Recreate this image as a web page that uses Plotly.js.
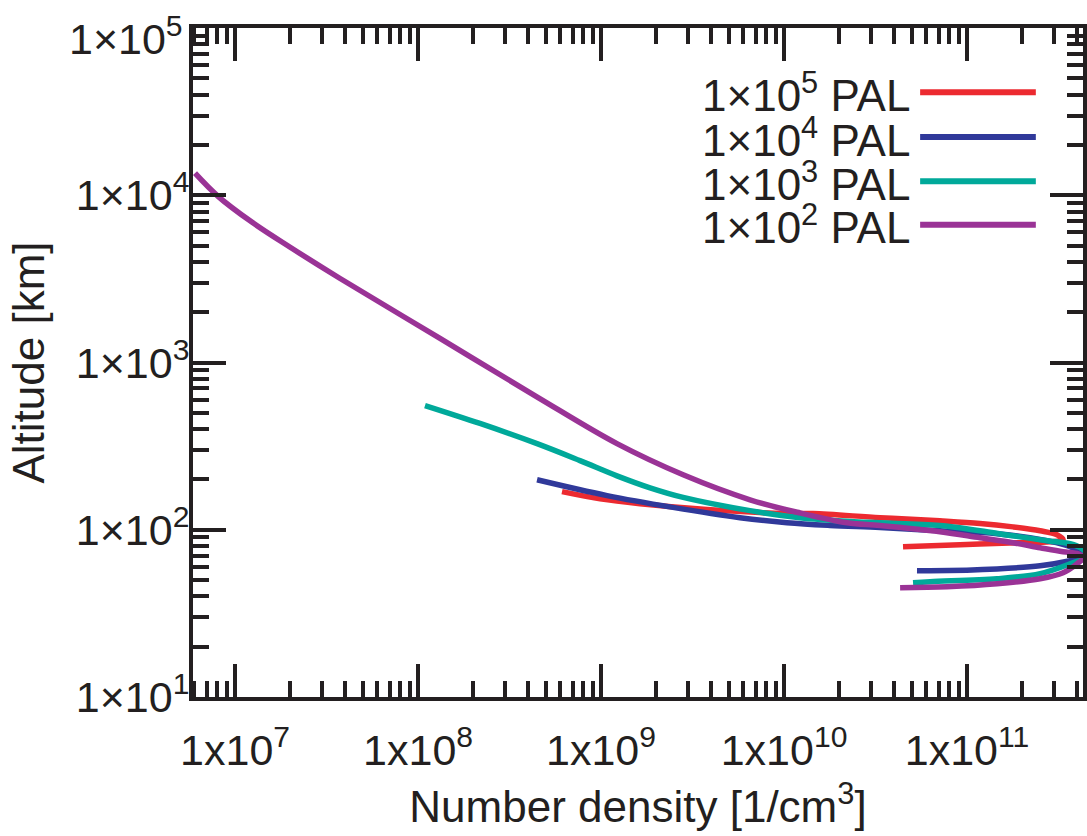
<!DOCTYPE html>
<html>
<head>
<meta charset="utf-8">
<script src="https://cdn.plot.ly/plotly-3.0.1.min.js"></script>
<style>html,body{margin:0;padding:0;background:#fff;}#chart{width:1087px;height:836px;}</style>
</head>
<body>
<div id="chart"></div>
<script>
// Series: number density [1/cm^3] vs altitude [km]
const seriesNames = ["1×10<sup>5</sup> PAL", "1×10<sup>4</sup> PAL", "1×10<sup>3</sup> PAL", "1×10<sup>2</sup> PAL"];
const seriesColors = ["#EC2A30", "#30399A", "#00A99A", "#9A3396"];

const dens_1e5 = [6.12e8, 9.89e8, 1.633e9, 3.79e9, 1.038e10, 1.439e10, 3.35e10, 7.11e10, 1.178e11, 1.782e11, 2.51e11, 3.10e11, 3.35e11, 2.84e11, 1.875e11, 9.16e10, 4.47e10];
const alt_1e5  = [169, 153, 143, 132, 125, 125, 118, 113, 109, 104, 98.6, 93.3, 87.1, 84.7, 83.6, 81.3, 79.1];

const dens_1e4 = [4.47e8, 1.079e9, 2.47e9, 5.75e9, 1.038e10, 1.782e10, 3.35e10, 7.11e10, 1.459e11, 2.74e11, 3.66e11, 4.47e11, 3.66e11, 2.51e11, 1.459e11, 6.28e10, 5.33e10];
const alt_1e4  = [199, 160, 136, 118, 110, 106, 103, 98.6, 94.6, 85.9, 79.1, 68.9, 65.2, 60.8, 58.3, 56.8, 56.8];

const dens_1e3 = [1.091e8, 2.18e8, 4.47e8, 7.67e8, 1.222e9, 1.853e9, 2.81e9, 6.52e9, 1.222e10, 2.30e10, 3.35e10, 7.11e10, 1.178e11, 1.782e11, 2.74e11, 3.66e11, 4.25e11, 4.58e11, 3.66e11, 2.51e11, 1.459e11, 6.28e10, 5.07e10];
const alt_1e3  = [553, 432, 327, 259, 210, 178, 156, 130, 118, 112, 110, 106, 98.6, 92.0, 85.9, 82.4, 76.9, 69.8, 62.5, 54.6, 50.9, 48.9, 48.2];

const dens_1e2 = [6.04e6, 8.07e6, 1.24e7, 2.00e7, 3.75e7, 1.318e8, 4.53e8, 1.222e9, 2.81e9, 6.52e9, 1.222e10, 2.21e10, 3.35e10, 7.11e10, 1.178e11, 1.782e11, 2.51e11, 3.35e11, 4.05e11, 4.31e11, 3.99e11, 3.35e11, 2.51e11, 1.459e11, 7.78e10, 4.31e10];
const alt_1e2  = [13550, 9860, 6890, 4890, 3180, 1393, 617, 327, 213, 151, 126, 110, 106, 97.3, 89.5, 83.6, 78.0, 73.8, 71.8, 67.9, 62.5, 55.3, 50.9, 47.5, 45.6, 45.0];

const xTickVals = [1e7, 1e8, 1e9, 1e10, 1e11];
const xTickText = ["1x10<sup>7</sup>", "1x10<sup>8</sup>", "1x10<sup>9</sup>", "1x10<sup>10</sup>", "1x10<sup>11</sup>"];
const yTickVals = [1e1, 1e2, 1e3, 1e4, 1e5];
const yTickText = ["1×10<sup>1</sup>", "1×10<sup>2</sup>", "1×10<sup>3</sup>", "1×10<sup>4</sup>", "1×10<sup>5</sup>"];

const allDens = [dens_1e5, dens_1e4, dens_1e3, dens_1e2];
const allAlt = [alt_1e5, alt_1e4, alt_1e3, alt_1e2];

const INK = "#231F20";
const FONT = "Liberation Sans, Arial, Helvetica, sans-serif";

const traces = allDens.map((d, i) => ({
  x: d, y: allAlt[i], type: "scatter", mode: "lines",
  name: seriesNames[i],
  line: {color: seriesColors[i], width: 5.5, shape: "spline", smoothing: 1},
  showlegend: false, hoverinfo: "skip"
}));

// Legend (text left, line right)
const legY = [0.904, 0.837, 0.771, 0.706];
const annotations = seriesNames.map((n, i) => ({
  xref: "paper", yref: "paper", x: 0.808, y: legY[i],
  xanchor: "right", yanchor: "middle", showarrow: false,
  text: n, font: {family: FONT, size: 44, color: INK}
}));
// Top y tick label, nudged down so it stays inside the figure (as in the reference)
const topIdx = yTickVals.length - 1;
annotations.push({
  xref: "paper", yref: "y", x: 0, y: Math.log10(yTickVals[topIdx]),
  xanchor: "right", yanchor: "middle", xshift: -8, yshift: -8, showarrow: false,
  text: yTickText[topIdx], font: {family: FONT, size: 43, color: INK}
});
const yTickTextShown = yTickText.map((t, i) => i === topIdx ? "" : t);

const shapes = seriesColors.map((c, i) => ({
  type: "line", xref: "paper", yref: "paper",
  x0: 0.817, x1: 0.947, y0: legY[i], y1: legY[i],
  line: {color: c, width: 6}
}));

const axisCommon = {
  type: "log", showline: true, linecolor: INK, linewidth: 4,
  mirror: "allticks", ticks: "inside", ticklen: 33, tickwidth: 4, tickcolor: INK,
  showgrid: false, zeroline: false,
  tickfont: {family: FONT, size: 43, color: INK},
  ticklabeloverflow: "allow",
  minor: {ticks: "inside", ticklen: 16, tickwidth: 4, tickcolor: INK, dtick: "D1", showgrid: false}
};

const layout = {
  width: 1087, height: 836,
  margin: {l: 193, r: 4, t: 28, b: 139},
  paper_bgcolor: "#fff", plot_bgcolor: "#fff",
  showlegend: false,
  xaxis: Object.assign({}, axisCommon, {
    range: [6.770, 11.634], tickmode: "array", tickvals: xTickVals, ticktext: xTickText,
    ticklabelstandoff: 12,
    title: {text: "Number density [1/cm<sup>3</sup>]", font: {family: FONT, size: 44, color: INK}, standoff: 20}
  }),
  yaxis: Object.assign({}, axisCommon, {
    range: [0.9995, 5.0005], tickmode: "array", tickvals: yTickVals, ticktext: yTickTextShown,
    ticklabelstandoff: -9,
    title: {text: "Altitude [km]", font: {family: FONT, size: 44, color: INK}, standoff: 18}
  }),
  annotations: annotations,
  shapes: shapes
};

Plotly.newPlot("chart", traces, layout, {staticPlot: true, displayModeBar: false});
</script>
</body>
</html>
